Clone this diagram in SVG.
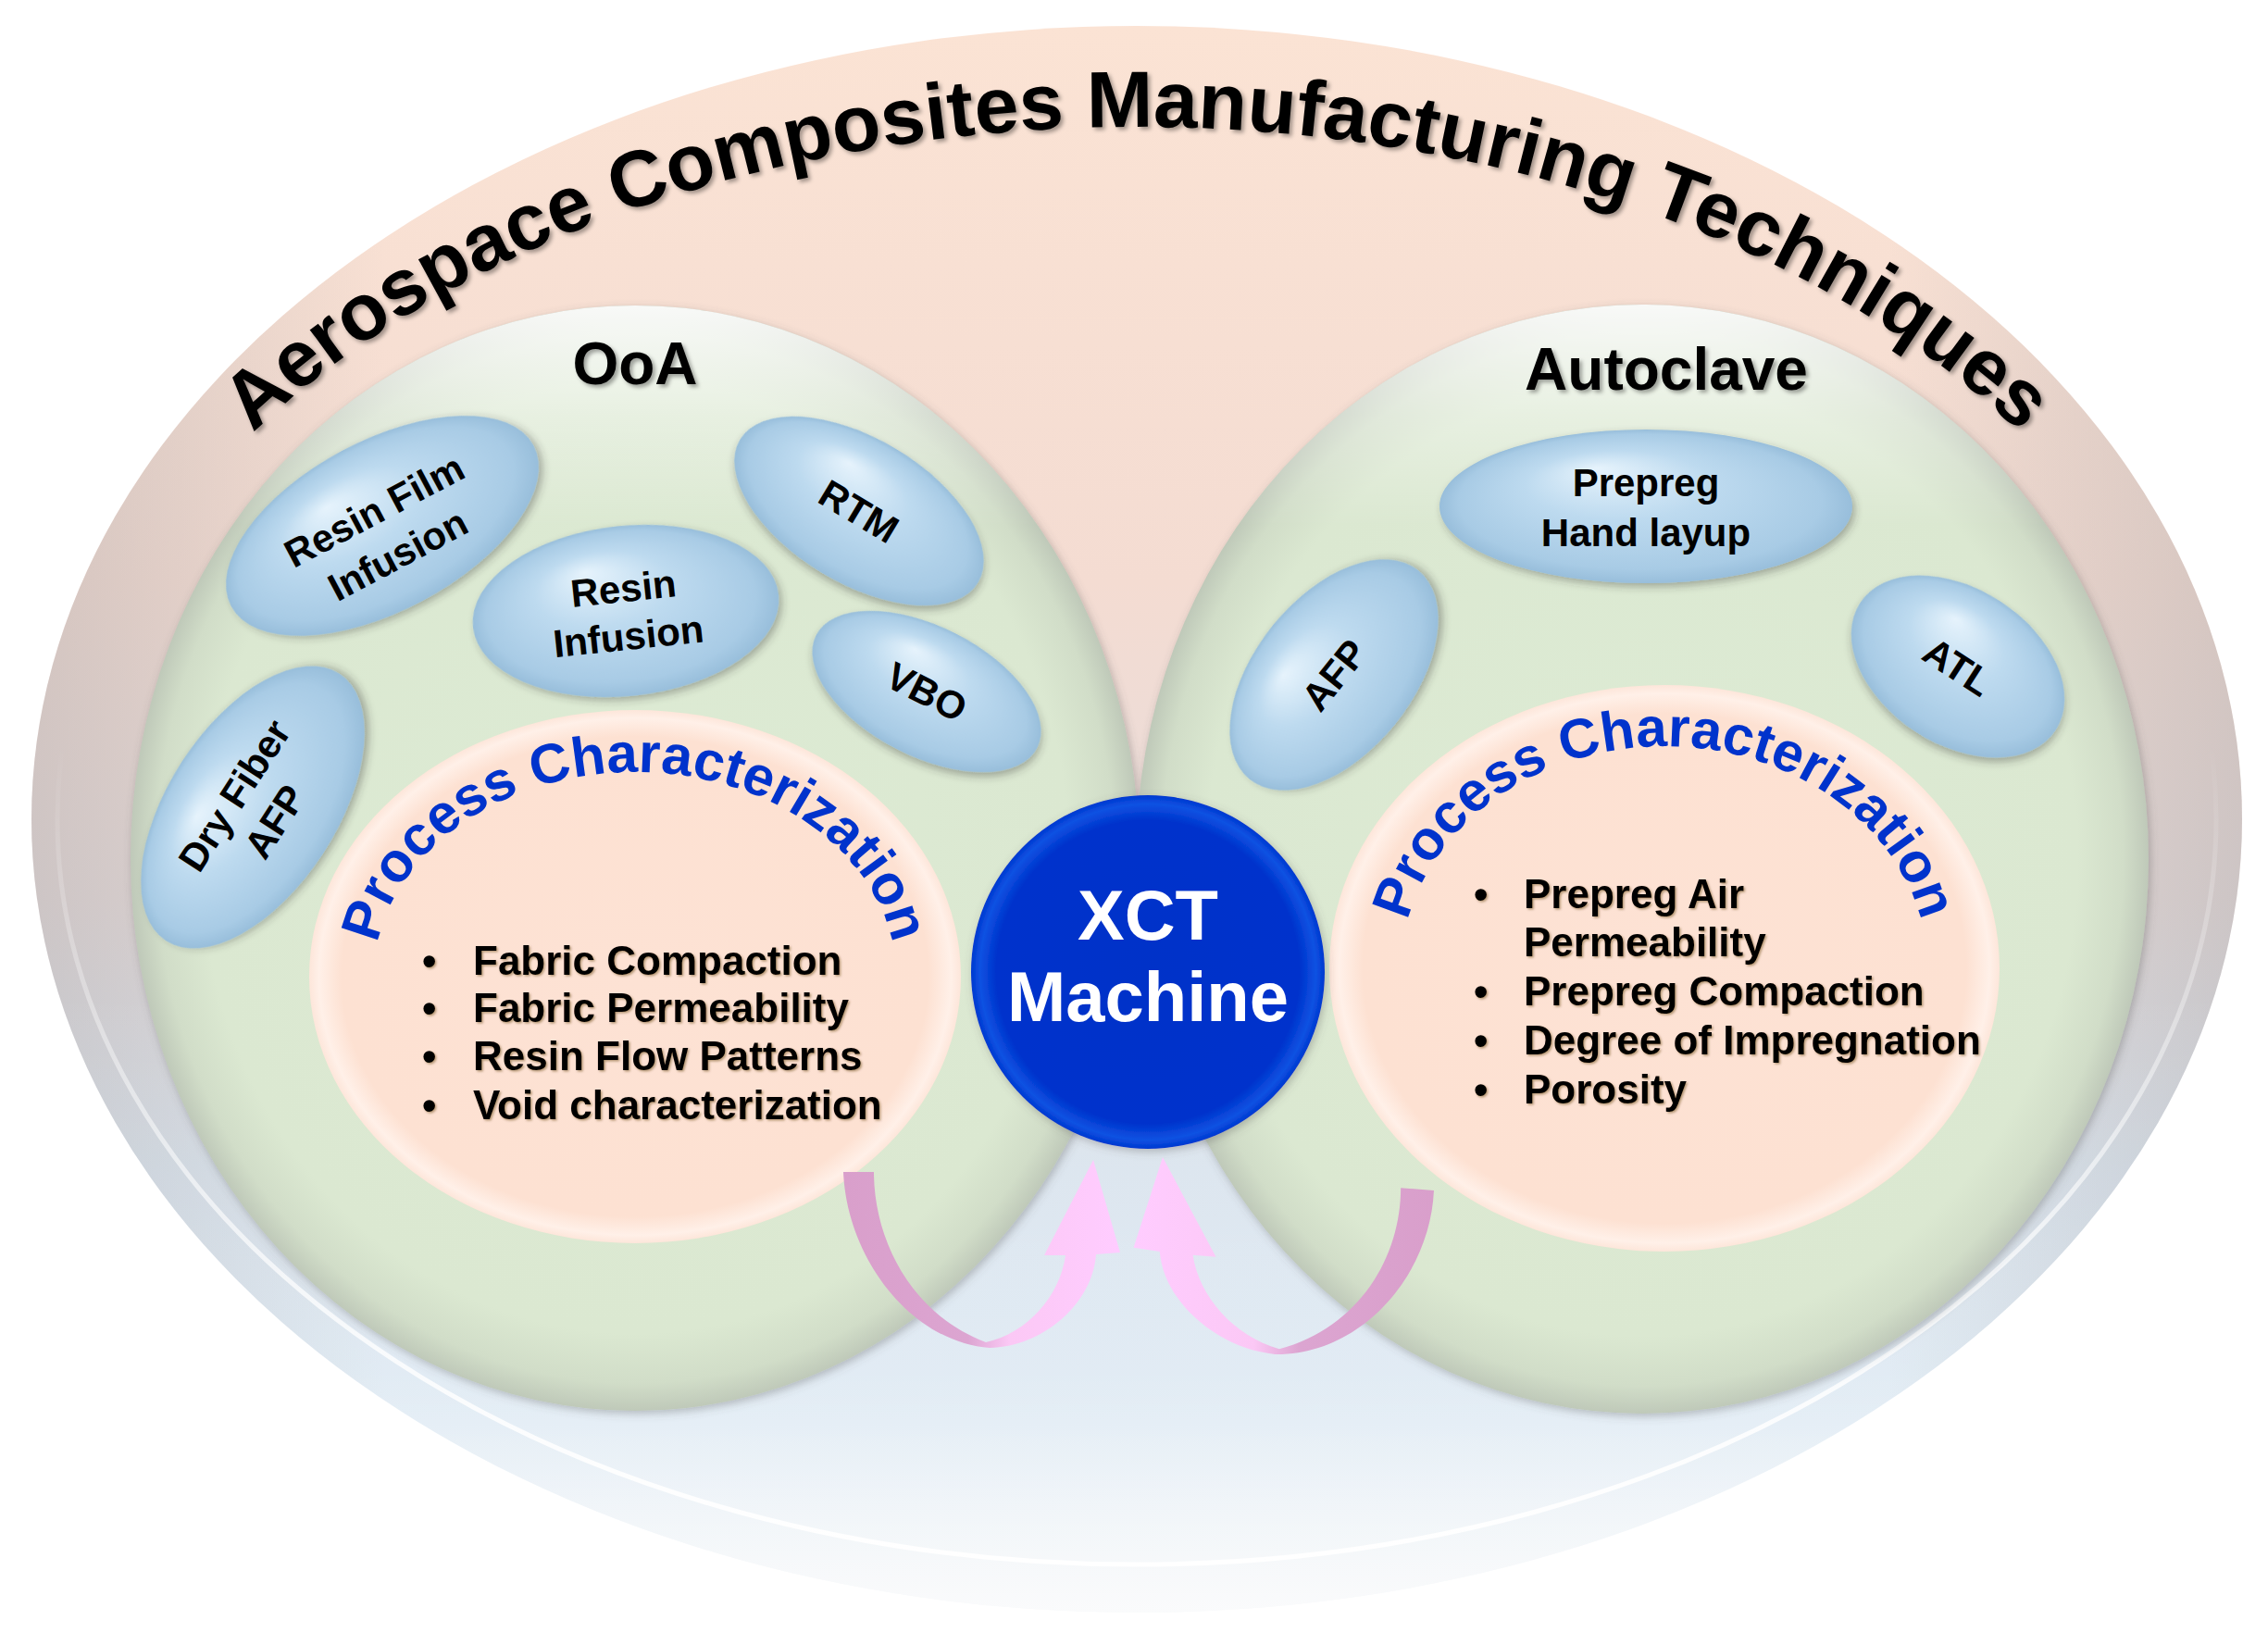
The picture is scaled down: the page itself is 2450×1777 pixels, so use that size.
<svg xmlns="http://www.w3.org/2000/svg" xmlns:xlink="http://www.w3.org/1999/xlink" width="2450" height="1777" viewBox="0 0 2450 1777">
<defs>
  <linearGradient id="outerGrad" x1="0" y1="0" x2="0" y2="1">
    <stop offset="0" stop-color="#fbe3d4"/>
    <stop offset="0.35" stop-color="#f4dcd2"/>
    <stop offset="0.55" stop-color="#e8dcda"/>
    <stop offset="0.72" stop-color="#dae4ee"/>
    <stop offset="0.88" stop-color="#dde9f3"/>
    <stop offset="1" stop-color="#f3f5f7"/>
  </linearGradient>
  <linearGradient id="outerSides" x1="0" y1="0" x2="1" y2="0">
    <stop offset="0" stop-color="#9a9a9e" stop-opacity="0.35"/>
    <stop offset="0.07" stop-color="#9a9a9e" stop-opacity="0.2"/>
    <stop offset="0.16" stop-color="#9a9a9e" stop-opacity="0"/>
    <stop offset="0.84" stop-color="#9a9a9e" stop-opacity="0"/>
    <stop offset="0.93" stop-color="#9a9a9e" stop-opacity="0.2"/>
    <stop offset="1" stop-color="#9a9a9e" stop-opacity="0.35"/>
  </linearGradient>
  <linearGradient id="outerBottom" x1="0" y1="0" x2="0" y2="1">
    <stop offset="0.6" stop-color="#ffffff" stop-opacity="0"/>
    <stop offset="0.85" stop-color="#ffffff" stop-opacity="0.15"/>
    <stop offset="1" stop-color="#ffffff" stop-opacity="0.6"/>
  </linearGradient>
  <linearGradient id="rimGrad" x1="0" y1="0" x2="0" y2="1">
    <stop offset="0.45" stop-color="#ffffff" stop-opacity="0"/>
    <stop offset="0.8" stop-color="#ffffff" stop-opacity="0.7"/>
    <stop offset="1" stop-color="#ffffff" stop-opacity="1"/>
  </linearGradient>
  <radialGradient id="greenGrad" cx="0.5" cy="0.5" r="0.5">
    <stop offset="0" stop-color="#ddebd4"/>
    <stop offset="0.86" stop-color="#dbe8d1"/>
    <stop offset="0.95" stop-color="#d1ddc8"/>
    <stop offset="1" stop-color="#bfc9b9"/>
  </radialGradient>
  <linearGradient id="greenTop" x1="0" y1="0" x2="0" y2="1">
    <stop offset="0" stop-color="#ffffff" stop-opacity="0.9"/>
    <stop offset="0.1" stop-color="#ffffff" stop-opacity="0.35"/>
    <stop offset="0.2" stop-color="#ffffff" stop-opacity="0"/>
  </linearGradient>
  <radialGradient id="peachGrad" cx="0.5" cy="0.5" r="0.5">
    <stop offset="0" stop-color="#fde2d4"/>
    <stop offset="0.9" stop-color="#fde1d2"/>
    <stop offset="0.97" stop-color="#fff0e8"/>
    <stop offset="1" stop-color="#fde6da"/>
  </radialGradient>
  <radialGradient id="blueGrad" cx="0.5" cy="0.5" r="0.5" fx="0.38" fy="0.25">
    <stop offset="0" stop-color="#e6f3fc"/>
    <stop offset="0.45" stop-color="#bddaef"/>
    <stop offset="0.88" stop-color="#a8cbe5"/>
    <stop offset="1" stop-color="#98bedb"/>
  </radialGradient>
  <radialGradient id="xctGrad" cx="0.5" cy="0.5" r="0.5">
    <stop offset="0" stop-color="#0030c8"/>
    <stop offset="0.86" stop-color="#0033cc"/>
    <stop offset="0.95" stop-color="#0d52e2"/>
    <stop offset="1" stop-color="#0038d0"/>
  </radialGradient>
  <linearGradient id="arrowGrad" gradientUnits="userSpaceOnUse" x1="911" y1="0" x2="1210" y2="0">
    <stop offset="0" stop-color="#d99fcb"/>
    <stop offset="0.45" stop-color="#dca5d1"/>
    <stop offset="0.6" stop-color="#fbc8f5"/>
    <stop offset="1" stop-color="#ffccff"/>
  </linearGradient>
  <filter id="shadow" x="-10%" y="-10%" width="120%" height="125%">
    <feDropShadow dx="3" dy="4" stdDeviation="4" flood-color="#333" flood-opacity="0.35"/>
  </filter>
  <filter id="softShadow" x="-5%" y="-5%" width="110%" height="110%">
    <feDropShadow dx="2" dy="3" stdDeviation="5" flood-color="#555" flood-opacity="0.35"/>
  </filter>
  <filter id="textShadow" x="-5%" y="-20%" width="110%" height="140%">
    <feDropShadow dx="3" dy="3" stdDeviation="2" flood-color="#000" flood-opacity="0.35"/>
  </filter>
  <filter id="listShadow" x="-5%" y="-20%" width="110%" height="140%">
    <feDropShadow dx="1.5" dy="1.5" stdDeviation="1" flood-color="#5a3a10" flood-opacity="0.45"/>
  </filter>
  <path id="titleArc" d="M 78 885 A 1150 748 0 0 1 2378 885"/>
  <path id="pcLeftArc" d="M 404 1055 A 282 221 0 0 1 968 1055"/>
  <path id="pcRightArc" d="M 1514 1046 A 284 240 0 0 1 2082 1046"/>
  <path id="arrowShape" d="M 911 1266 L 944 1266 C 944 1340 985 1420 1065 1450 C 1110 1440 1145 1400 1151 1356 L 1128 1356 L 1181 1253 L 1210 1353 L 1184 1355 C 1180 1410 1125 1455 1069 1456 C 985 1450 915 1360 911 1266 Z"/>
  <style>
    .t { font-family: "Liberation Sans", Arial, Helvetica, sans-serif; font-weight: bold; }
    .title { font-size: 86px; fill: #000; }
    .head { font-size: 64px; fill: #000; text-anchor: middle; }
    .pc { font-size: 60px; fill: #0033cc; }
    .li { font-size: 44px; fill: #000; }
    .lab { font-size: 42px; fill: #000; text-anchor: middle; }
    .xct { font-size: 76px; fill: #ffffff; text-anchor: middle; }
    .blue { fill: url(#blueGrad); }
  </style>
</defs>

<rect width="2450" height="1777" fill="#ffffff"/>

<g id="outer">
  <ellipse cx="1228" cy="885" rx="1194" ry="857" fill="url(#outerGrad)"/>
  <ellipse cx="1228" cy="885" rx="1194" ry="857" fill="url(#outerSides)"/>
  <ellipse cx="1228" cy="885" rx="1194" ry="857" fill="url(#outerBottom)"/>
  <ellipse cx="1228" cy="885" rx="1166" ry="805" fill="none" stroke="url(#rimGrad)" stroke-width="5"/>
  <text class="t title" filter="url(#textShadow)"><textPath href="#titleArc" startOffset="50%" text-anchor="middle">Aerospace Composites Manufacturing Techniques</textPath></text>
</g>

<g id="ooa">
  <ellipse cx="686" cy="927" rx="545" ry="597" fill="url(#greenGrad)" filter="url(#softShadow)"/>
  <ellipse cx="686" cy="927" rx="545" ry="597" fill="url(#greenTop)"/>
  <text class="t head" x="686" y="415" filter="url(#textShadow)">OoA</text>
</g>

<g id="autoclave">
  <ellipse cx="1774" cy="928" rx="547" ry="599" fill="url(#greenGrad)" filter="url(#softShadow)"/>
  <ellipse cx="1774" cy="928" rx="547" ry="599" fill="url(#greenTop)"/>
  <text class="t head" x="1800" y="421" filter="url(#textShadow)">Autoclave</text>
</g>

<g id="resin-film-infusion" transform="translate(413,568) rotate(-28)">
  <ellipse rx="185" ry="92" class="blue" filter="url(#shadow)"/>
  <text class="t lab"><tspan x="0" y="-4">Resin Film</tspan><tspan x="0" y="50">Infusion</tspan></text>
</g>

<g id="resin-infusion" transform="translate(676,660) rotate(-6)">
  <ellipse rx="166" ry="92" class="blue" filter="url(#shadow)"/>
  <text class="t lab"><tspan x="0" y="-10">Resin</tspan><tspan x="0" y="42">Infusion</tspan></text>
</g>

<g id="rtm" transform="translate(928,552) rotate(31)">
  <ellipse rx="150" ry="78" class="blue" filter="url(#shadow)"/>
  <text class="t lab" x="0" y="15">RTM</text>
</g>

<g id="vbo" transform="translate(1001,747) rotate(27)">
  <ellipse rx="134" ry="70" class="blue" filter="url(#shadow)"/>
  <text class="t lab" x="0" y="15">VBO</text>
</g>

<g id="dry-fiber-afp" transform="translate(273,872) rotate(-57)">
  <ellipse rx="172" ry="91" class="blue" filter="url(#shadow)"/>
  <text class="t lab"><tspan x="0" y="-9">Dry Fiber</tspan><tspan x="0" y="43">AFP</tspan></text>
</g>

<g id="prepreg-hand-layup" transform="translate(1778,547)">
  <ellipse rx="223" ry="83" class="blue" filter="url(#shadow)"/>
  <text class="t lab"><tspan x="0" y="-11">Prepreg</tspan><tspan x="0" y="43">Hand layup</tspan></text>
</g>

<g id="afp" transform="translate(1441,729) rotate(-51)">
  <ellipse rx="145" ry="85" class="blue" filter="url(#shadow)"/>
  <text class="t lab" x="0" y="15">AFP</text>
</g>

<g id="atl" transform="translate(2115,720) rotate(33)">
  <ellipse rx="126" ry="84" class="blue" filter="url(#shadow)"/>
  <text class="t lab" x="0" y="15">ATL</text>
</g>

<g id="pc-ooa">
  <ellipse cx="686" cy="1055" rx="352" ry="288" fill="url(#peachGrad)"/>
  <text class="t pc"><textPath href="#pcLeftArc" startOffset="50%" text-anchor="middle">Process Characterization</textPath></text>
  <text class="t li" filter="url(#listShadow)">
    <tspan x="456" y="1053">•</tspan><tspan x="511" y="1053">Fabric Compaction</tspan>
    <tspan x="456" y="1104">•</tspan><tspan x="511" y="1104">Fabric Permeability</tspan>
    <tspan x="456" y="1156">•</tspan><tspan x="511" y="1156">Resin Flow Patterns</tspan>
    <tspan x="456" y="1209">•</tspan><tspan x="511" y="1209">Void characterization</tspan>
  </text>
</g>

<g id="pc-autoclave">
  <ellipse cx="1798" cy="1046" rx="362" ry="306" fill="url(#peachGrad)"/>
  <text class="t pc"><textPath href="#pcRightArc" startOffset="50%" text-anchor="middle">Process Characterization</textPath></text>
  <text class="t li" filter="url(#listShadow)">
    <tspan x="1592" y="981">•</tspan><tspan x="1646" y="981">Prepreg Air</tspan>
    <tspan x="1646" y="1033">Permeability</tspan>
    <tspan x="1592" y="1086">•</tspan><tspan x="1646" y="1086">Prepreg Compaction</tspan>
    <tspan x="1592" y="1139">•</tspan><tspan x="1646" y="1139">Degree of Impregnation</tspan>
    <tspan x="1592" y="1192">•</tspan><tspan x="1646" y="1192">Porosity</tspan>
  </text>
</g>

<g id="xct-machine">
  <circle cx="1240" cy="1050" r="191" fill="url(#xctGrad)" filter="url(#softShadow)"/>
  <text class="t xct"><tspan x="1240" y="1015">XCT</tspan><tspan x="1240" y="1103">Machine</tspan></text>
</g>

<g id="connectors">
  <use href="#arrowShape" fill="url(#arrowGrad)"/>
  <use href="#arrowShape" fill="url(#arrowGrad)" transform="matrix(-1.085,-0.0851,0,1.0023,2537.4,94.6)"/>
</g>
</svg>
